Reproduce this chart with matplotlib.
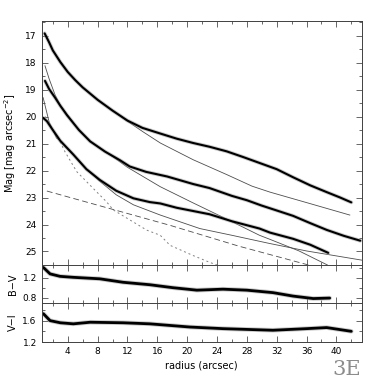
import matplotlib
matplotlib.use("Agg")
import matplotlib.pyplot as plt
from matplotlib.ticker import MultipleLocator

# ---------------- data ----------------
rA = [0.9, 1.5, 2.0, 3.0, 4.0, 5.0, 6.0, 8.0, 10.0, 12.0, 14.0, 16.4, 18.6, 20.8,
      23.0, 25.3, 27.5, 29.7, 32.0, 34.2, 36.5, 38.7, 40.5, 42.0]
magA = [16.92, 17.25, 17.55, 17.98, 18.35, 18.65, 18.92, 19.38, 19.78, 20.15, 20.42,
        20.63, 20.82, 20.98, 21.12, 21.29, 21.5, 21.72, 21.95, 22.25, 22.55, 22.8,
        23.0, 23.18]
rA_mod = [0.9, 2.0, 4.0, 6.0, 8.0, 10.0, 12.3, 14.0, 16.4, 20.8, 25.3, 28.7, 31.1,
          36.4, 41.8]
magA_mod = [16.92, 17.55, 18.35, 18.92, 19.38, 19.78, 20.23, 20.55, 20.98, 21.6,
            22.15, 22.58, 22.8, 23.22, 23.65]

rB = [0.95, 1.5, 2.3, 3.0, 3.9, 5.5, 7.0, 9.0, 11.0, 12.3, 14.5, 17.3, 20.8, 23.0,
      26.0, 28.0, 30.0, 32.0, 34.2, 36.5, 38.7, 41.0, 43.2]
magB = [18.68, 18.98, 19.3, 19.6, 19.95, 20.5, 20.92, 21.3, 21.62, 21.85, 22.05,
        22.22, 22.5, 22.65, 22.94, 23.1, 23.3, 23.48, 23.68, 23.95, 24.2, 24.42, 24.6]
rB_mod = [0.95, 1.5, 2.3, 3.0, 5.5, 7.0, 9.0, 10.0, 12.0, 16.4, 20.8, 25.3, 29.7,
          31.1, 35.0, 38.8]
magB_mod = [18.12, 18.6, 19.2, 19.58, 20.5, 20.92, 21.3, 21.48, 21.88, 22.6, 23.2,
            23.8, 24.4, 24.55, 24.98, 25.5]

rC = [0.7, 1.2, 2.0, 3.0, 4.75, 6.5, 8.3, 10.5, 12.8, 15.0, 16.4, 18.6, 20.8, 23.0,
      26.0, 29.7, 31.1, 34.2, 36.5, 38.9]
magC = [20.05, 20.17, 20.5, 20.9, 21.41, 21.95, 22.35, 22.75, 23.03, 23.17, 23.22,
        23.38, 23.5, 23.62, 23.88, 24.15, 24.3, 24.53, 24.75, 25.05]
rC_mod = [0.7, 1.5, 2.5, 3.0, 4.75, 6.5, 8.3, 10.5, 12.8, 16.4, 21.7, 26.0, 31.0,
          36.0, 43.4]
magC_mod = [19.3, 20.2, 20.8, 20.9, 21.41, 21.95, 22.4, 22.9, 23.27, 23.65, 24.15,
            24.4, 24.7, 24.98, 25.32]

r_disk = [1.2, 17.7, 26.9, 37.6]
mag_disk = [22.76, 24.03, 24.8, 25.6]

r_bulge = [1.0, 3.0, 3.6, 5.2, 7.4, 9.2, 10.1, 14.6, 16.4, 17.7, 20.8, 23.0, 24.0]
mag_bulge = [20.0, 20.95, 21.29, 22.04, 22.66, 23.16, 23.46, 24.21, 24.4, 24.77,
             25.15, 25.4, 25.5]

r_bv = [0.73, 1.63, 2.97, 4.75, 8.3, 11.4, 15.0, 18.1, 21.3, 24.8, 28.0, 31.5,
        34.2, 36.9, 39.1]
bv = [1.41, 1.28, 1.23, 1.21, 1.18, 1.11, 1.06, 1.0, 0.95, 0.97, 0.95, 0.9, 0.83,
      0.78, 0.79]

r_vi = [0.73, 1.63, 3.0, 4.75, 7.0, 11.4, 15.0, 20.4, 24.8, 31.5, 36.0, 38.7, 42.0]
vi = [1.73, 1.6, 1.56, 1.54, 1.57, 1.56, 1.54, 1.48, 1.45, 1.42, 1.45, 1.47, 1.4]

x_ticks = [4, 8, 12, 16, 20, 24, 28, 32, 36, 40]
mag_ticks = [17, 18, 19, 20, 21, 22, 23, 24, 25]
bv_ticks = [0.8, 1.2]
vi_ticks = [1.2, 1.6]

# ---------------- figure ----------------
plt.rcParams['font.family'] = ['DejaVu Sans']
fig = plt.figure(figsize=(3.82, 3.82), dpi=100)
left, width = 0.109, 0.838
ax1 = fig.add_axes([left, 0.3063, width, 0.6395])
ax2 = fig.add_axes([left, 0.2068, width, 0.0995])
ax3 = fig.add_axes([left, 0.1047, width, 0.1021])

def thick(ax, x, y, lw=1.5):
    ax.plot(x, y, color='0.6', lw=lw + 1.3, alpha=0.5, solid_capstyle='round',
            solid_joinstyle='round')
    ax.plot(x, y, color='black', lw=lw, solid_capstyle='round',
            solid_joinstyle='round')

thin_kw = dict(color='0.3', lw=0.6)
ax1.plot(rA_mod, magA_mod, **thin_kw)
ax1.plot(rB_mod, magB_mod, **thin_kw)
ax1.plot(rC_mod, magC_mod, **thin_kw)
ax1.plot(r_disk, mag_disk, color='0.3', lw=0.6, linestyle=(0, (7, 4)))
ax1.plot(r_bulge, mag_bulge, color='0.5', lw=0.7, linestyle=(0, (2, 3)))
thick(ax1, rA, magA)
thick(ax1, rB, magB)
thick(ax1, rC, magC)

ax1.set_ylim(25.5, 16.45)
ax1.set_yticks(mag_ticks)
ax1.yaxis.set_minor_locator(MultipleLocator(0.5))
ax1.set_ylabel(r'Mag [mag arcsec$^{-2}$]', fontsize=7, labelpad=6)

thick(ax2, r_bv, bv, lw=2.0)
ax2.set_ylim(0.69, 1.46)
ax2.set_yticks(bv_ticks)
ax2.yaxis.set_minor_locator(MultipleLocator(0.2))
ax2.set_ylabel('B\u2212V', fontsize=7, labelpad=4)

thick(ax3, r_vi, vi, lw=2.0)
ax3.set_ylim(1.2, 1.93)
ax3.set_yticks(vi_ticks)
ax3.yaxis.set_minor_locator(MultipleLocator(0.2))
ax3.set_ylabel('V\u2212I', fontsize=7, labelpad=4)
ax3.set_xlabel('radius (arcsec)', fontsize=7, labelpad=3)

for ax in (ax1, ax2, ax3):
    ax.set_xlim(0.5, 43.4)
    ax.set_xticks(x_ticks)
    ax.xaxis.set_minor_locator(MultipleLocator(2))
    ax.tick_params(which='both', direction='in', top=True, right=True,
                   labelsize=6.5, width=0.6, color='0.3')
    ax.tick_params(which='major', length=4)
    ax.tick_params(which='minor', length=2.5)
    for s in ax.spines.values():
        s.set_linewidth(0.7)
        s.set_color('0.25')
    ax.yaxis.set_label_coords(-0.075, 0.5)
for ax in (ax1, ax2):
    ax.tick_params(labelbottom=False)

fig.text(0.945, 0.008, '3E', fontsize=15, family='DejaVu Serif', color='0.55',
         ha='right', va='bottom', fontweight='light')

fig.savefig('out.png', dpi=100)
